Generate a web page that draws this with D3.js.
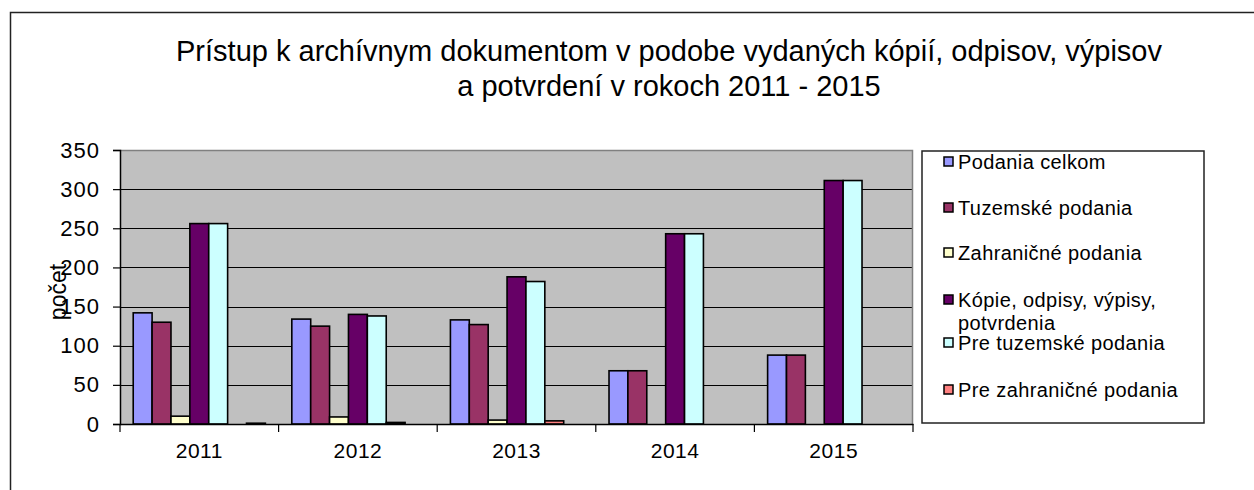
<!DOCTYPE html>
<html>
<head>
<meta charset="utf-8">
<style>
html, body {
    margin: 0;
    padding: 0;
    background: #fff;
    overflow: hidden;
}
svg text {
    font-family: Arial, "Liberation Sans", sans-serif;
    fill: #000;
}
</style>
</head>
<body>
<script src="https://d3js.org/d3.v7.min.js"></script>
<script>
const years = ["2011", "2012", "2013", "2014", "2015"];

const seriesNames = [
    "Podania celkom",
    "Tuzemské podania",
    "Zahraničné podania",
    "Kópie, odpisy, výpisy, potvrdenia",
    "Pre tuzemské podania",
    "Pre zahraničné podania",
    ""
];
const seriesColors = ["#9999ff", "#993366", "#ffffcc", "#660066", "#ccffff", "#ff8080", "#0066cc"];

const podaniaCelkom    = [142, 134, 133, 68, 88];
const tuzemskePodania  = [130, 125, 127, 68, 88];
const zahranicnePodania = [10, 9, 5, 0, 0];
const kopie            = [256, 140, 188, 243, 311];
const preTuzemske      = [256, 138, 182, 243, 311];
const preZahranicne    = [0, 2, 4, 0, 0];
const ostatne          = [1, 0, 0, 0, 0];

const seriesValues = [podaniaCelkom, tuzemskePodania, zahranicnePodania, kopie, preTuzemske, preZahranicne, ostatne];

const yTicks = [0, 50, 100, 150, 200, 250, 300, 350];

const [width, height] = [1254, 490];
const plot = {left: 120, right: 913, top: 150, bottom: 424};

const svg = d3.select("body").append("svg")
    .attr("width", width)
    .attr("height", height);

// outer frame (only left and top edges visible)
svg.append("path")
    .attr("d", `M10.5,${height}V12.5H${width}`)
    .attr("fill", "none")
    .attr("stroke", "#222")
    .attr("stroke-width", 1.5);

// title
const title = svg.append("text")
    .attr("text-anchor", "middle")
    .attr("font-size", 29);
title.append("tspan").attr("x", 669).attr("y", 61)
    .text("Prístup k archívnym dokumentom v podobe vydaných kópií, odpisov, výpisov");
title.append("tspan").attr("x", 669).attr("y", 96)
    .text("a potvrdení v rokoch 2011 - 2015");

const x = d3.scaleBand()
    .domain(years)
    .range([plot.left, plot.right]);

const xInner = d3.scaleBand()
    .domain(d3.range(seriesNames.length))
    .range([0, x.bandwidth()])
    .paddingInner(0)
    .paddingOuter(0.7);

const y = d3.scaleLinear()
    .domain([0, 350])
    .range([plot.bottom, plot.top]);

// plot background
svg.append("rect")
    .attr("x", plot.left)
    .attr("y", plot.top)
    .attr("width", plot.right - plot.left)
    .attr("height", plot.bottom - plot.top)
    .attr("fill", "#c0c0c0");

// gridlines
svg.append("g")
    .selectAll("line")
    .data(yTicks.filter(t => t > 0 && t < 350))
    .join("line")
        .attr("x1", plot.left)
        .attr("x2", plot.right)
        .attr("y1", d => Math.round(y(d)) + 0.5)
        .attr("y2", d => Math.round(y(d)) + 0.5)
        .attr("stroke", "#000")
        .attr("stroke-width", 1);

// plot border top/right
svg.append("path")
    .attr("d", `M${plot.left},${plot.top + 0.5}H${plot.right - 0.5}V${plot.bottom}`)
    .attr("fill", "none")
    .attr("stroke", "#808080")
    .attr("stroke-width", 1.5);

// bars
const groups = svg.append("g")
    .selectAll("g")
    .data(years)
    .join("g")
        .attr("transform", d => `translate(${x(d)},0)`);

groups.selectAll("rect")
    .data((yr, i) => seriesValues.map((vals, s) => ({s, v: vals[i]})).filter(d => d.v > 0))
    .join("rect")
        .attr("x", d => xInner(d.s))
        .attr("width", xInner.bandwidth())
        .attr("y", d => y(d.v))
        .attr("height", d => y(0) - y(d.v))
        .attr("fill", d => seriesColors[d.s])
        .attr("stroke", "#000")
        .attr("stroke-width", 1.6);

// y axis
const yAxis = svg.append("g")
    .attr("transform", `translate(${plot.left},0)`)
    .call(d3.axisLeft(y).tickValues(yTicks).tickSize(7).tickPadding(13));
yAxis.select(".domain").attr("stroke", "#000").attr("stroke-width", 1.5);
yAxis.selectAll(".tick line").attr("stroke", "#000").attr("stroke-width", 1.2);
yAxis.selectAll(".tick text")
    .attr("font-size", 22)
    .attr("font-family", "Arial, 'Liberation Sans', sans-serif")
    .attr("letter-spacing", 1);

// x axis
const xAxis = svg.append("g")
    .attr("transform", `translate(0,${plot.bottom})`)
    .call(d3.axisBottom(x).tickSize(0).tickPadding(19));
xAxis.select(".domain").attr("stroke", "#000").attr("stroke-width", 1.5);
xAxis.selectAll(".tick text")
    .attr("font-size", 21)
    .attr("font-family", "Arial, 'Liberation Sans', sans-serif")
    .attr("letter-spacing", 0.5);

svg.append("g")
    .selectAll("line")
    .data(years.map(d => x(d)).concat([plot.right]))
    .join("line")
        .attr("x1", d => d)
        .attr("x2", d => d)
        .attr("y1", plot.bottom)
        .attr("y2", plot.bottom + 8)
        .attr("stroke", "#000")
        .attr("stroke-width", 1.2);

// y label
svg.append("text")
    .attr("transform", `translate(66,292) rotate(-90)`)
    .attr("text-anchor", "middle")
    .attr("font-size", 23)
    .text("počet");

// legend
const legend = svg.append("g");
legend.append("rect")
    .attr("x", 922)
    .attr("y", 151)
    .attr("width", 282)
    .attr("height", 272)
    .attr("fill", "#fff")
    .attr("stroke", "#222")
    .attr("stroke-width", 1.5);

const legendRows = [162, 208, 253, 300, 343, 390];
const legendLines = [
    ["Podania celkom"],
    ["Tuzemské podania"],
    ["Zahraničné podania"],
    ["Kópie, odpisy, výpisy,", "potvrdenia"],
    ["Pre tuzemské podania"],
    ["Pre zahraničné podania"]
];

const entries = legend.selectAll("g.entry")
    .data(legendLines)
    .join("g")
        .attr("class", "entry")
        .attr("transform", (d, i) => `translate(944,${legendRows[i]})`);

entries.append("rect")
    .attr("x", 0)
    .attr("y", -5)
    .attr("width", 9)
    .attr("height", 9)
    .attr("fill", (d, i) => seriesColors[i])
    .attr("stroke", "#000")
    .attr("stroke-width", 1.5);

entries.append("text")
    .attr("font-size", 20)
    .attr("letter-spacing", 0.4)
    .selectAll("tspan")
    .data(d => d)
    .join("tspan")
        .attr("x", 14)
        .attr("y", (d, i) => 7 + i * 23)
        .text(d => d);
</script>
</body>
</html>
